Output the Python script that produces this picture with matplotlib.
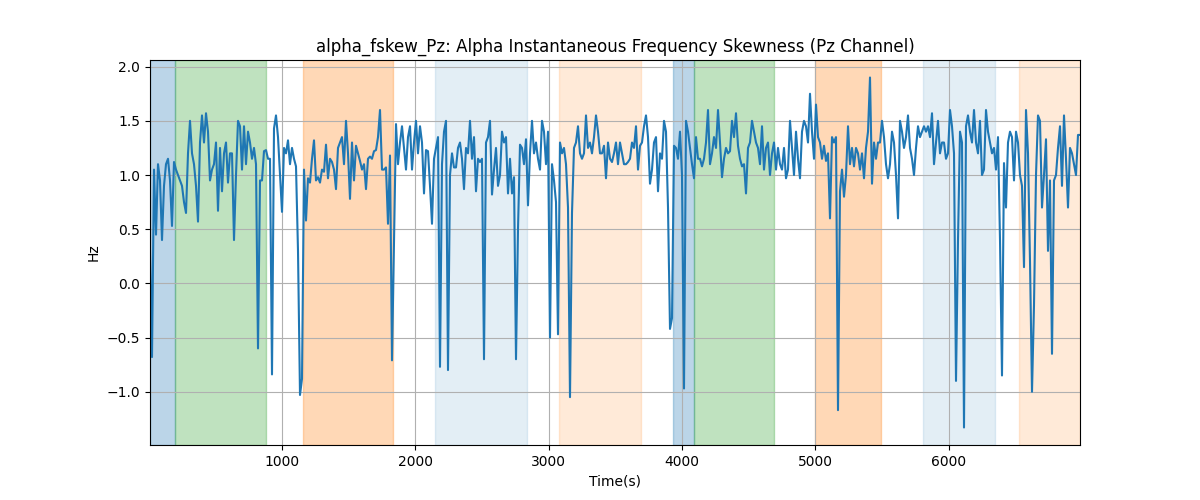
import numpy as np
import matplotlib
matplotlib.use("Agg")
import matplotlib.pyplot as plt

# sampling of the time axis (seconds)
t_start = 11
t_step = 15

# skewness values (Hz), read left to right
seg_a = [0.3, -0.68, 1.05, 0.45, 1.1, 0.95, 0.4, 0.9, 1.1, 1.15, 0.95, 0.53, 1.12, 1.05, 1.0, 0.95,
         0.9, 0.75, 0.65, 1.2, 1.5, 1.2, 1.1, 0.9, 0.57, 1.3, 1.55, 1.3, 1.57, 1.4, 0.95,
         1.05, 1.1, 1.3, 0.67, 1.25, 0.85, 1.2, 1.3, 0.93, 1.2, 1.2, 0.4, 1.0, 1.5, 1.45,
         1.05, 1.45, 1.1, 1.4, 1.3, 1.15, 1.25, 1.1, -0.6, 0.95, 0.95, 1.22]
seg_b = [1.23, 1.15, 1.15, -0.84, 1.43, 1.55, 1.35, 1.0, 0.66, 1.25, 1.2, 1.32, 1.1, 1.25, 1.15,
         1.08, 0.3, -1.03, -0.88, 1.05, 0.58, 0.97, 0.93, 1.15, 1.32, 0.95, 0.98, 0.93, 1.05, 1.03,
         1.28, 0.97, 1.15, 1.12, 1.05, 0.87, 1.25, 1.3, 1.35, 1.1, 1.5, 1.2, 0.78, 1.3, 0.95,
         1.27, 1.2, 1.13, 1.05, 1.1, 0.87, 1.15, 1.17, 1.15, 1.22, 1.23, 1.35, 1.6, 1.05]
seg_c = [1.05, 1.07, 0.55, 1.18, -0.71, 0.4, 1.47, 1.1, 1.3, 1.45, 1.25, 1.05, 1.35, 1.45, 1.05,
         1.3, 1.5, 1.2, 1.45, 1.3, 0.83, 1.23, 1.22, 0.9, 0.55, 1.15, 1.25, 1.35, -0.77, 1.1,
         1.4, 1.5, -0.8, 1.0, 1.2, 1.07, 1.07, 1.25, 1.3, 1.15, 0.87, 1.25, 1.2, 1.5, 1.15,
         1.35, 0.85, 1.15, 1.12, 1.15, -0.7, 1.3, 1.35, 1.5, 0.82, 1.05, 1.25, 0.9]
seg_d = [1.0, 1.4, 1.3, 1.35, 0.83, 1.15, 0.83, 0.98, -0.7, 0.5, 1.28, 1.25, 1.1, 1.33, 0.72,
         1.2, 1.5, 1.2, 1.3, 1.15, 1.05, 1.5, 1.4, 1.1, 1.4, -0.5, 1.1, 0.95, 0.75, -0.47,
         1.3, 1.2, 1.25, 1.1, 0.7, -1.05, 0.65, 1.25, 1.3, 1.45, 1.2, 1.15, 1.2, 1.55, 1.25,
         1.3, 1.2, 1.35, 1.55, 1.4, 1.2, 1.2, 1.27, 0.97, 1.3, 1.15, 1.12, 1.2, 1.3]
seg_e = [1.1, 1.3, 1.2, 1.1, 1.1, 1.12, 1.15, 1.3, 1.25, 1.45, 1.05, 1.27, 1.3, 1.45, 1.55,
         1.35, 0.92, 1.05, 1.3, 1.35, 0.85, 1.2, 1.15, 1.5, 1.4, 0.7, -0.42, -0.32, 1.27, 1.25,
         1.15, 1.4, 1.0, -0.97, 1.5, 1.4, 1.25, 1.1, 0.97, 1.35, 1.15, 1.15, 1.08, 1.15, 1.3,
         1.6, 1.1, 1.2, 1.35, 1.25, 1.6, 1.3, 0.98, 1.15, 1.25, 1.2, 1.22, 1.5]
seg_f = [1.35, 1.57, 1.27, 1.15, 1.08, 1.1, 0.83, 1.25, 1.3, 1.5, 1.4, 1.3, 1.25, 1.1, 1.45,
         1.05, 1.25, 1.3, 1.0, 1.2, 1.3, 1.05, 1.25, 1.1, 1.05, 1.25, 0.97, 1.05, 1.5, 1.25,
         1.0, 1.4, 1.15, 0.97, 1.4, 1.5, 1.45, 1.3, 1.75, 1.4, 1.15, 1.65, 1.35, 1.3, 1.15,
         1.27, 1.13, 1.2, 0.6, 1.35, 1.3, 1.35, -1.17, 0.85, 1.05, 0.8, 1.0, 1.45, 1.1]
seg_g = [1.25, 1.08, 1.25, 1.2, 1.05, 1.2, 0.97, 1.25, 1.4, 1.9, 0.92, 1.3, 1.15, 1.3, 1.3,
         1.5, 1.35, 1.1, 0.97, 1.1, 1.4, 1.3, 1.0, 0.6, 1.5, 1.4, 1.25, 1.35, 1.55, 1.25,
         1.15, 1.0, 1.25, 1.45, 1.35, 1.4, 1.45, 1.4, 1.45, 1.35, 1.57, 1.1, 1.3, 1.5, 1.2,
         1.3, 1.3, 1.15, 1.2, 1.6, 1.45, 1.2, -0.9, 0.4, 1.4, 1.3, -1.33, 1.45]
seg_h = [1.55, 1.4, 1.3, 1.6, 1.3, 1.2, 1.5, 1.0, 1.05, 1.6, 1.4, 1.3, 1.2, 1.25, 1.05,
         1.35, 0.4, -0.85, 1.11, 0.7, 1.3, 1.4, 1.35, 0.95, 1.4, 1.3, 1.0, 0.9, 0.15, 1.6,
         1.2, 0.2, -1.0, -0.2, 1.0, 1.55, 1.5, 0.7, 1.0, 1.33, 0.3, 0.95, -0.65, 0.95, 1.0,
         1.25, 1.45, 0.9, 1.55, 1.15, 0.7, 1.25, 1.2, 1.1, 1.0, 1.37, 1.37]

# shaded state intervals: (start, end, colour, alpha)
span_starts = [11, 200, 1160, 2150, 3080, 3935, 4089, 5001, 5811, 6531]
span_ends = [200, 880, 1830, 2838, 3694, 4089, 4690, 5494, 6349, 6986]
span_colors = ["C0", "C2", "C1", "C0", "C1", "C0", "C2", "C1", "C0", "C1"]
span_alphas = [0.3, 0.3, 0.3, 0.12, 0.16, 0.3, 0.3, 0.3, 0.12, 0.16]

values = np.array(seg_a + seg_b + seg_c + seg_d + seg_e + seg_f + seg_g + seg_h)
times = t_start + t_step * np.arange(len(values))

fig, ax = plt.subplots(figsize=(12, 5), dpi=100)
for s, e, c, a in zip(span_starts, span_ends, span_colors, span_alphas):
    ax.axvspan(s, e, color=c, alpha=a)
ax.plot(times, values, color="C0", linewidth=1.5)
ax.set_xlim(times[0], times[-1])
ax.set_title("alpha_fskew_Pz: Alpha Instantaneous Frequency Skewness (Pz Channel)")
ax.set_xlabel("Time(s)")
ax.set_ylabel("Hz")
ax.grid(True)
fig.savefig("out.png")
